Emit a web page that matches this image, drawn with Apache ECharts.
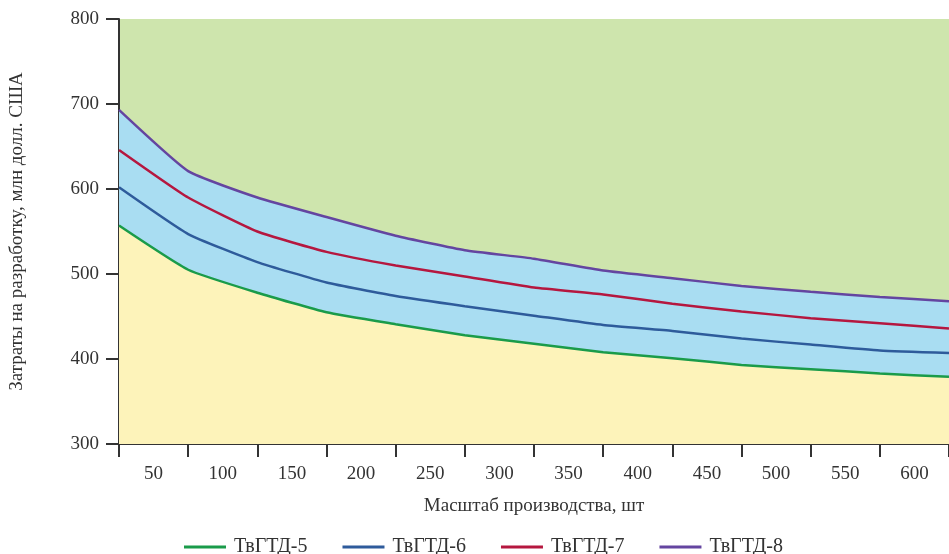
<!DOCTYPE html>
<html>
<head>
<meta charset="utf-8">
<script src="https://cdn.jsdelivr.net/npm/echarts@6/dist/echarts.min.js"></script>
<style>
    html, body { margin: 0; padding: 0; background: #fff; }
    #chart { width: 949px; height: 554px; }
</style>
</head>
<body>
<div id="chart"></div>
<script>
    // tick labels under the x axis (between ticks)
    var scaleLabels = ['50', '100', '150', '200', '250', '300', '350', '400', '450', '500', '550', '600'];
    // points sit on the tick boundaries, 13 of them
    var boundaries = ['0', '1', '2', '3', '4', '5', '6', '7', '8', '9', '10', '11', '12'];

    var tvgtd5 = [557, 505, 478, 455, 441, 428, 418, 408, 401, 393, 388, 383, 379];
    var tvgtd6 = [602, 547, 514, 490, 474, 462, 451, 440, 433, 424, 417, 410, 407];
    var tvgtd7 = [646, 590, 550, 526, 510, 497, 484, 476, 465, 456, 448, 442, 436];
    var tvgtd8 = [693, 621, 590, 567, 545, 528, 518, 504, 495, 486, 479, 473, 468];

    var font = '"Liberation Serif", "DejaVu Serif", serif';
    var textColor = '#333';

    var myChart = echarts.init(document.getElementById('chart'));
    var options = {
        animation: false,
        textStyle: { fontFamily: font },
        grid: {
            left: 118,
            right: 0,
            top: 19,
            bottom: 110,
            show: true,
            backgroundColor: '#cee5ad',
            borderWidth: 0
        },
        legend: {
            top: 532,
            left: 179,
            itemGap: 35,
            itemWidth: 42,
            itemHeight: 3,
            icon: 'rect',
            data: ['ТвГТД-5', 'ТвГТД-6', 'ТвГТД-7', 'ТвГТД-8'],
            textStyle: { color: textColor, fontSize: 20, fontFamily: font, padding: [0, 0, 0, 3] }
        },
        xAxis: [{
            type: 'category',
            data: boundaries,
            boundaryGap: false,
            position: 'bottom',
            axisLine: { lineStyle: { color: '#333', width: 2 } },
            axisTick: { show: true, length: 13, lineStyle: { color: '#333', width: 2 } },
            axisLabel: { show: false },
            splitLine: { show: false },
            name: 'Масштаб производства, шт',
            nameLocation: 'middle',
            nameGap: 53,
            nameTextStyle: { color: textColor, fontSize: 19, fontFamily: font }
        }, {
            type: 'category',
            data: scaleLabels,
            boundaryGap: true,
            position: 'bottom',
            axisLine: { show: false },
            axisTick: { show: false },
            axisLabel: { color: textColor, fontSize: 19, fontFamily: font, margin: 21 },
            splitLine: { show: false }
        }],
        yAxis: {
            type: 'value',
            min: 300,
            max: 800,
            interval: 100,
            axisLine: { show: true, lineStyle: { color: '#333', width: 2 } },
            axisTick: { show: true, length: 13, lineStyle: { color: '#333', width: 2 } },
            axisLabel: { color: textColor, fontSize: 19, fontFamily: font, margin: 20 },
            splitLine: { show: false },
            name: 'Затраты на разработку, млн долл. США',
            nameLocation: 'middle',
            nameRotate: 90,
            nameGap: 92,
            nameTextStyle: { color: textColor, fontSize: 19, fontFamily: font }
        },
        series: [{
            name: 'ТвГТД-8',
            type: 'line',
            data: tvgtd8,
            symbol: 'none',
            smooth: 0.15,
            color: '#6445a0',
            lineStyle: { width: 2.5, color: '#6445a0' },
            areaStyle: { color: '#a9ddf2', opacity: 1 },
            z: 2
        }, {
            name: 'ТвГТД-5',
            type: 'line',
            data: tvgtd5,
            symbol: 'none',
            smooth: 0.15,
            color: '#1a9b4a',
            lineStyle: { width: 2.5, color: '#1a9b4a' },
            areaStyle: { color: '#fdf3ba', opacity: 1 },
            z: 3
        }, {
            name: 'ТвГТД-6',
            type: 'line',
            data: tvgtd6,
            symbol: 'none',
            smooth: 0.15,
            color: '#2e5b9b',
            lineStyle: { width: 2.5, color: '#2e5b9b' },
            z: 4
        }, {
            name: 'ТвГТД-7',
            type: 'line',
            data: tvgtd7,
            symbol: 'none',
            smooth: 0.15,
            color: '#b5173f',
            lineStyle: { width: 2.5, color: '#b5173f' },
            z: 4
        }]
    };
    myChart.setOption(options);
    window.addEventListener('resize', myChart.resize);
</script>
</body>
</html>
